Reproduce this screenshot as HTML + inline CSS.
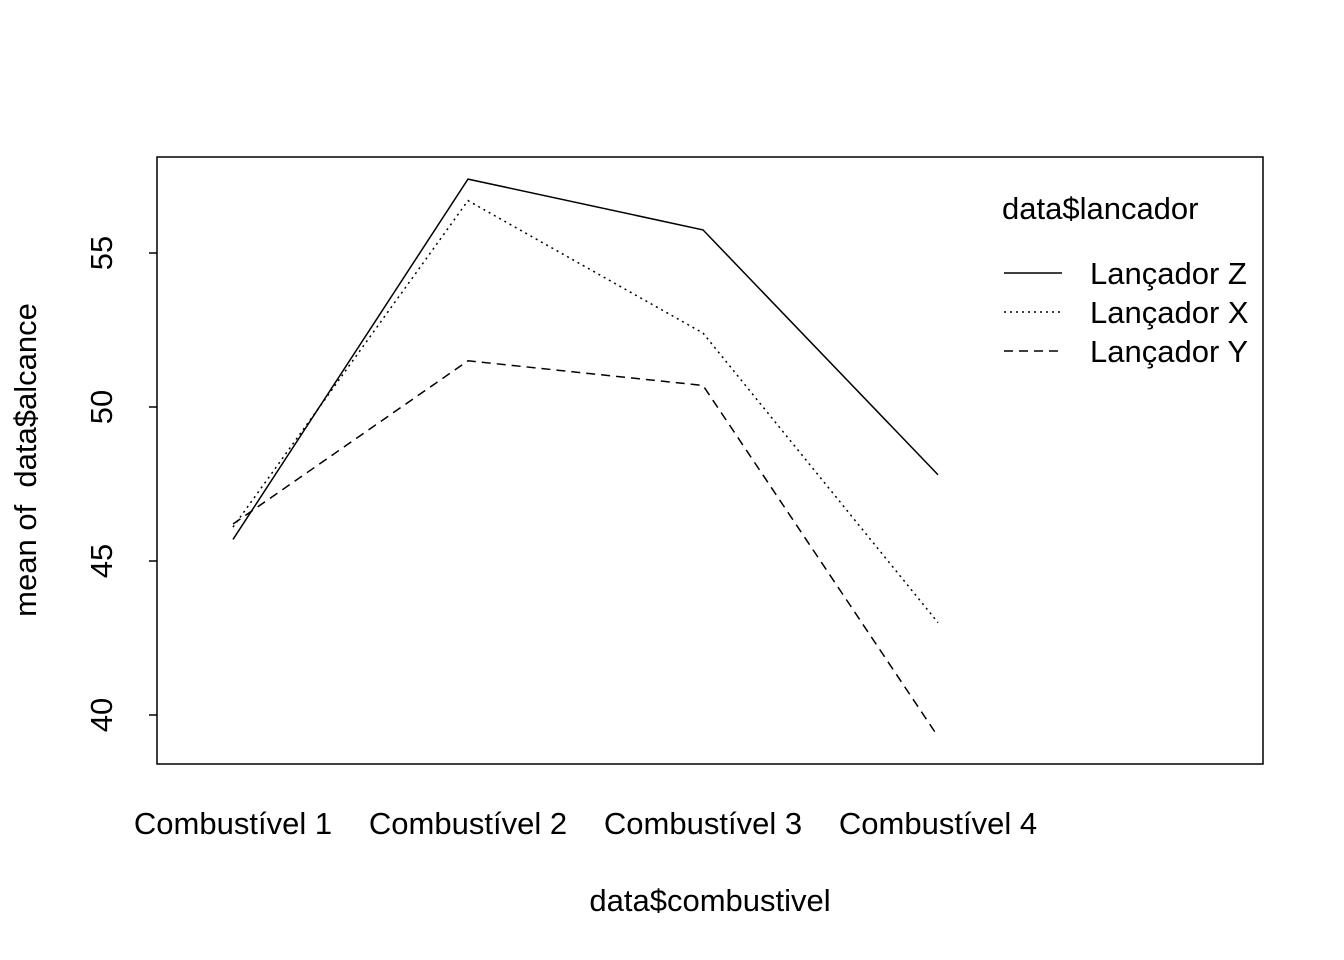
<!DOCTYPE html>
<html><head><meta charset="utf-8"><style>body{margin:0;background:#fff}svg{display:block}text{font-family:"Liberation Sans",Arial,sans-serif;font-size:31px;fill:#000;white-space:pre}</style></head>
<body>
<svg id="chart" width="1344" height="960" viewBox="0 0 1344 960">
<rect x="157" y="157" width="1106" height="607" fill="none" stroke="#000" stroke-width="1.5"/>
<g id="yaxis"></g>
<g id="xaxis"></g>
<g id="lines"></g>
<text x="710" y="911" text-anchor="middle">data$combustivel</text>
<text transform="translate(36,460) rotate(-90)" text-anchor="middle" xml:space="preserve">mean of  data$alcance</text>
<g>
<text x="1002" y="219">data$lancador</text>
<g id="legend-entries"></g>
</g>
</svg>
<script>
const categories = ["Combustível 1","Combustível 2","Combustível 3","Combustível 4"];
const seriesNames = ["Lançador Z","Lançador X","Lançador Y"];
const seriesZ = [45.7, 57.4, 55.75, 47.8];
const seriesX = [46.1, 56.7, 52.4, 43.0];
const seriesY = [46.2, 51.5, 50.7, 39.3];
const yTicks = [40, 45, 50, 55];
const dashes = ["", "2,4", "9,6"];
const NS = "http://www.w3.org/2000/svg";
function yScale(v){ return 407 - (v - 50) * 30.8; }
function xScale(i){ return 233 + i * 235; }
function mk(tag, attrs, parent){ const e = document.createElementNS(NS, tag); for (const k in attrs) e.setAttribute(k, attrs[k]); parent.appendChild(e); return e; }
const ya = document.getElementById('yaxis');
yTicks.forEach(t => {
  const y = yScale(t);
  const l = mk('line', {x1:149, x2:157, y1:y, y2:y, stroke:'#000', 'stroke-width':1.5}, ya);
  
  
  const tx = mk('text', {transform:`translate(112,${y}) rotate(-90)`, 'text-anchor':'middle'}, ya);
  
  
  tx.textContent = t;
});
const xa = document.getElementById('xaxis');
categories.forEach((c, i) => {
  const tx = mk('text', {x:xScale(i), y:834, 'text-anchor':'middle'}, xa);
  
  
  tx.textContent = c;
});
const lg = document.getElementById('lines');
const le = document.getElementById('legend-entries');
[seriesZ, seriesX, seriesY].forEach((s, k) => {
  const p = mk('polyline', {points:s.map((v,i)=>xScale(i)+','+yScale(v)).join(' '), fill:'none', stroke:'#000', 'stroke-width':1.5, 'stroke-dasharray':dashes[k]}, lg);
  
  
  const y = 273 + k * 39;
  const ll = mk('line', {x1:1004, x2:1062, y1:y, y2:y, stroke:'#000', 'stroke-width':1.5, 'stroke-dasharray':dashes[k]}, le);
  
  
  const tx = mk('text', {x:1090, y:y+11}, le);
  
  
  tx.textContent = seriesNames[k];
});
</script>
</body></html>
